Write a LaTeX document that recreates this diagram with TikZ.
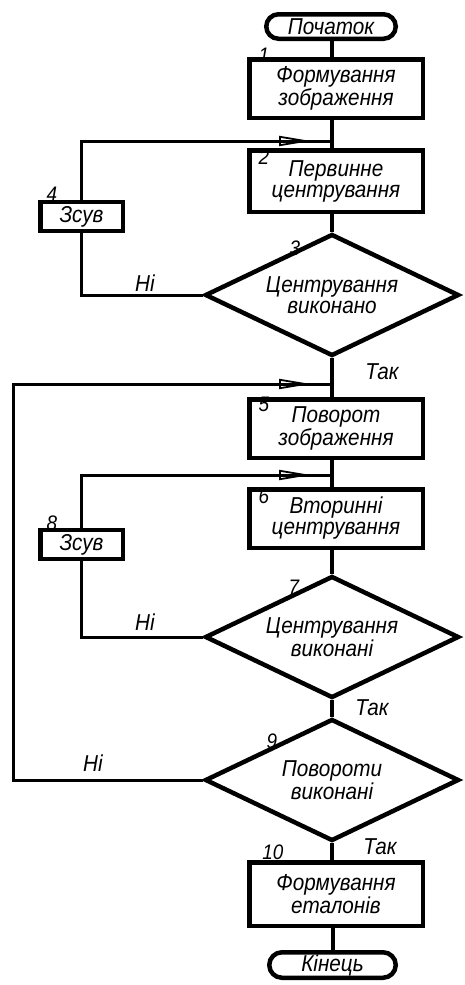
\documentclass[tikz,border=0pt]{standalone}
\usepackage{fontspec}
\setmainfont{Liberation Sans}[FakeStretch=0.9]
\usetikzlibrary{shapes.geometric,shapes.misc,arrows.meta,decorations.markings,calc}
\begin{document}
\begin{tikzpicture}[x=1pt,y=-1pt,
  txt/.style={font=\itshape\fontsize{23}{21}\selectfont, align=center, inner sep=0pt},
  num/.style={font=\itshape\fontsize{21}{21}\selectfont, inner sep=0pt},
  blk/.style={txt, draw, line width=4.5pt, minimum width=173.5pt},
  zsbox/.style={txt, draw, line width=4.5pt, minimum width=82.5pt, minimum height=29pt},
  term/.style={txt, draw, line width=4.5pt, rounded rectangle},
  dec/.style={txt, draw, line width=4.5pt, diamond, aspect=2, minimum width=254pt, minimum height=122pt},
  flow/.style={line width=4pt},
  loopline/.style={line width=3pt},
  arr/.style={postaction={decorate}, decoration={markings,
     mark=at position -21pt with {\arrow{Triangle[open, length=32pt, width=10pt, line width=1.8pt]}}}},
]
\useasboundingbox (0,0) rectangle (465,985);

\node[term, minimum width=129.5pt, minimum height=24.5pt] (start) at (331,26.5) {Початок};
\node[blk, minimum height=58.5pt] (b1) at (336,88.5) {Формування\\зображення};
\node[blk, minimum height=61.5pt] (b2) at (336,181) {Первинне\\центрування};
\node[dec] (d3) at (332,295) {Центрування\\виконано};
\node[zsbox] (z4) at (81.5,216.5) {Зсув};
\node[blk, minimum height=58.5pt] (b5) at (336,428.5) {Поворот\\зображення};
\node[blk, minimum height=58.5pt] (b6) at (336,518.5) {Вторинні\\центрування};
\node[zsbox] (z8) at (81.5,544.5) {Зсув};
\node[dec] (d7) at (332,637) {Центрування\\виконані};
\node[dec] (d9) at (332,780) {Повороти\\виконані};
\node[blk, minimum height=63.5pt] (b10) at (336,894) {Формування\\еталонів};
\node[term, minimum width=126.5pt, minimum height=25.5pt] (end) at (332.5,965) {Кінець};

\coordinate (j1) at (332,141);
\coordinate (j2) at (332,384);
\coordinate (j3) at (332,475);
\coordinate (lft) at (13,0);

% main flow
\draw[flow] (start.south -| d3.north) -- (b1.north -| d3.north);
\draw[flow] (b1.south -| d3.north) -- (b2.north -| d3.north);
\draw[flow] (b2.south -| d3.north) -- (d3.north);
\draw[flow] (d3.south) -- (b5.north -| d3.south);
\draw[flow] (b5.south -| d3.south) -- (b6.north -| d3.south);
\draw[flow] (b6.south -| d7.north) -- (d7.north);
\draw[flow] (d7.south) -- (d9.north);
\draw[flow] (d9.south) -- (b10.north -| d9.south);
\draw[flow] (b10.south -| end.north) -- (end.north);

% loops
\draw[loopline] (d3.west) -- (d3.west -| z4.south) -- (z4.south);
\draw[loopline, arr] (z4.north) -- (z4.north |- j1) -- (j1);
\draw[loopline] (d7.west) -- (d7.west -| z8.south) -- (z8.south);
\draw[loopline, arr] (z8.north) -- (z8.north |- j3) -- (j3);
\draw[loopline, arr] (d9.west) -- (d9.west -| lft) -- (lft |- j2) -- (j2);

% labels
\node[txt] (n1) at (145,283) {Ні};
\node[txt] (n2) at (145,622) {Ні};
\node[txt] (n3) at (93,763) {Ні};
\node[txt] (t1) at (382,372) {Так};
\node[txt] (t2) at (372,708) {Так};
\node[txt] (t3) at (380,847) {Так};

\node[num] (l1) at (264,55) {1};
\node[num] (l2) at (264,157) {2};
\node[num] (l3) at (295,248) {3};
\node[num] (l4) at (52,194) {4};
\node[num] (l5) at (264,404) {5};
\node[num] (l6) at (264,496) {6};
\node[num] (l7) at (294,587) {7};
\node[num] (l8) at (52,523) {8};
\node[num] (l9) at (272,741) {9};
\node[num] (l10) at (273,852) {10};
\end{tikzpicture}
\end{document}
